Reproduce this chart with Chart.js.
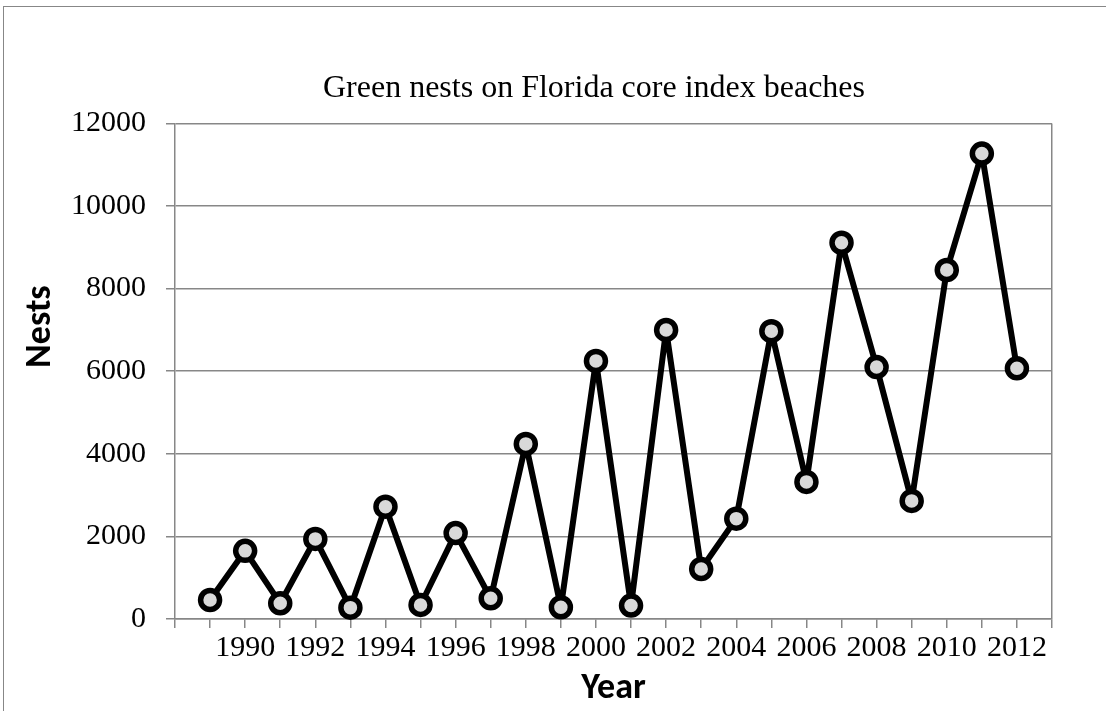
<!DOCTYPE html>
<html>
<head>
<meta charset="utf-8">
<script src="https://cdn.jsdelivr.net/npm/chart.js@4/dist/chart.umd.min.js"></script>
<style>
  html, body { margin: 0; padding: 0; background: #fff; overflow: hidden; }
  #frame {
    position: absolute; left: 3px; top: 6px;
    width: 1180px; height: 740px;
    border: 1.5px solid #878787;
    background: #fff;
  }
  #chart { display: block; }
</style>
</head>
<body>
<div id="frame">
  <canvas id="chart" width="1180" height="740"></canvas>
</div>
<script>
// Green turtle nests counted on Florida core index beaches
const years = [1989, 1990, 1991, 1992, 1993, 1994, 1995, 1996, 1997, 1998, 1999, 2000,
               2001, 2002, 2003, 2004, 2005, 2006, 2007, 2008, 2009, 2010, 2011, 2012];
const nests = [460, 1650, 380, 1940, 275, 2720, 340, 2080, 500, 4240, 285, 6250,
               325, 7000, 1210, 2430, 6970, 3320, 9110, 6100, 2860, 8450, 11270, 6070];
const yTicks = [0, 2000, 4000, 6000, 8000, 10000, 12000];

const gray = '#878787';
const serif = "'Liberation Serif', 'Times New Roman', serif";
const sans = "Carlito, Lato, 'Open Sans', sans-serif";

// Y axis title sits a bit above the middle of the plot, like the original
const nestsTitle = {
  id: 'nestsTitle',
  afterDraw: function(chart) {
    const ctx = chart.ctx;
    const area = chart.chartArea;
    ctx.save();
    ctx.translate(36.5, area.top + (area.bottom - area.top) * 0.41);
    ctx.rotate(-Math.PI / 2);
    ctx.font = 'bold 36px ' + sans;
    ctx.fillStyle = '#000000';
    ctx.textAlign = 'center';
    ctx.textBaseline = 'middle';
    ctx.fillText('Nests', 0, 0);
    ctx.restore();
  }
};

document.addEventListener('DOMContentLoaded', function() {
  const canvas = document.getElementById('chart');

  new Chart(canvas, {
    type: 'line',
    data: {
      datasets: [
        {
          label: 'Nests',
          data: years.map((yr, i) => ({ x: yr, y: nests[i] })),
          borderColor: '#000000',
          borderWidth: 6,
          borderJoinStyle: 'round',
          borderCapStyle: 'round',
          tension: 0,
          pointRadius: 9.5,
          pointBorderWidth: 5.5,
          pointBorderColor: '#000000',
          pointBackgroundColor: '#d9d9d9',
          clip: false
        }
      ]
    },
    options: {
      responsive: false,
      animation: false,
      layout: {
        padding: { left: 0, top: 0, right: 0, bottom: 28 }
      },
      plugins: {
        legend: { display: false },
        tooltip: { enabled: false },
        title: {
          display: true,
          text: 'Green nests on Florida core index beaches',
          color: '#000000',
          font: { family: serif, size: 32, weight: 'normal' },
          padding: { top: 62, bottom: 16 }
        }
      },
      scales: {
        x: {
          type: 'linear',
          min: years[0] - 1,
          max: years[years.length - 1] + 1,
          afterFit: function(scale) { scale.height = 100; },
          border: { color: gray, width: 1.5 },
          grid: {
            drawOnChartArea: true,
            drawTicks: true,
            tickLength: 9,
            lineWidth: 1.5,
            tickColor: gray,
            color: ctx => (ctx.tick && ctx.tick.value === years[years.length - 1] + 1) ? gray : 'rgba(0,0,0,0)'
          },
          ticks: {
            stepSize: 1,
            autoSkip: false,
            maxRotation: 0,
            padding: 2,
            color: '#000000',
            font: { family: serif, size: 30 },
            callback: v => (v % 2 === 0 && v >= years[0]) ? String(v) : ''
          },
          title: {
            display: true,
            text: 'Year',
            color: '#000000',
            font: { family: sans, size: 36, weight: 'bold' },
            padding: { top: 0, bottom: 8 }
          }
        },
        y: {
          min: yTicks[0],
          max: yTicks[yTicks.length - 1],
          afterFit: function(scale) { scale.width = 171; },
          afterBuildTicks: function(scale) { scale.ticks = yTicks.map(v => ({ value: v })); },
          border: { color: gray, width: 1.5 },
          grid: {
            color: gray,
            lineWidth: 1.5,
            drawTicks: true,
            tickLength: 9
          },
          ticks: {
            padding: 20,
            color: '#000000',
            font: { family: serif, size: 30 },
            callback: v => String(v)
          }
        },
        // empty right-hand axis keeps the plot narrower than the frame
        yRight: {
          position: 'right',
          afterFit: function(scale) { scale.width = 132; },
          grid: { display: false },
          border: { display: false },
          ticks: { display: false }
        }
      }
    },
    plugins: [nestsTitle]
  });
});
</script>
</body>
</html>
